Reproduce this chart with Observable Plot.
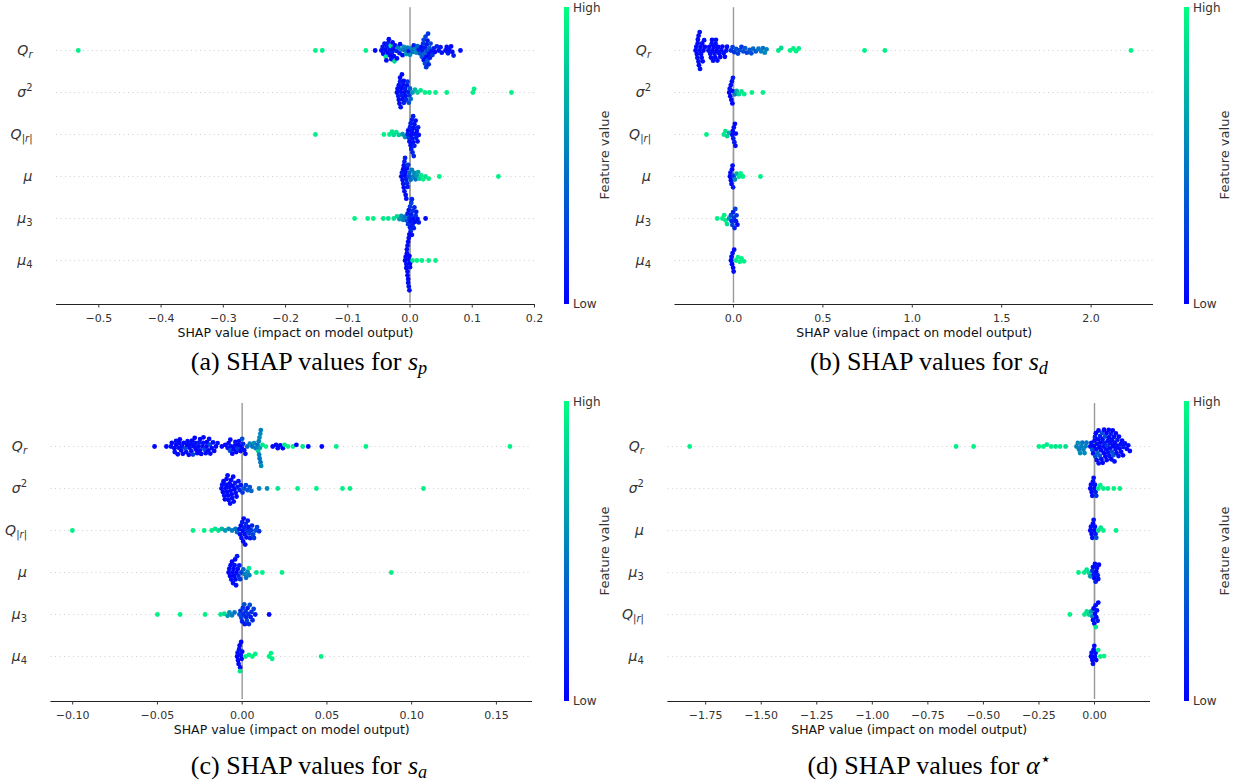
<!DOCTYPE html>
<html>
<head>
<meta charset="utf-8">
<script src="https://cdn.jsdelivr.net/npm/d3@7"></script>
<script src="https://cdn.jsdelivr.net/npm/@observablehq/plot@0.6"></script>
<style>
html,body{margin:0;padding:0;background:#fff}
#root{position:relative;width:1239px;height:784px;overflow:hidden;font-family:"DejaVu Sans",sans-serif}
.panel{position:absolute;width:620px;height:392px}
.panel svg{position:absolute;left:0;overflow:visible}
.cbar{position:absolute;left:564px;width:5px;background:linear-gradient(to bottom,#00ff80,#0000ff)}
.cbl{position:absolute;left:573px;font-size:12px;line-height:14px;color:#333}
.fv{position:absolute;left:605px;font-size:13px;line-height:14px;color:#333;white-space:nowrap;transform:translate(-50%,-50%) rotate(-90deg)}
.cap{position:absolute;left:0;width:618px;text-align:center;font-family:"Liberation Serif","Times New Roman",serif;font-size:26px;line-height:26px;color:#000;white-space:nowrap}
.cap sub{font-size:70%;line-height:0;vertical-align:-0.2em}
.cap sup{font-size:70%;line-height:0;vertical-align:0.5em}
</style>
</head>
<body>
<div id="root"></div>
<script>
// ---- feature (row) labels ----
const featsABC = ["Q_r", "σ^2", "Q_|r|", "μ", "μ_3", "μ_4"];
const featsD   = ["Q_r", "σ^2", "μ", "μ_3", "Q_|r|", "μ_4"];

// ---- tick labels ----
const aTicks = [-0.5, -0.4, -0.3, -0.2, -0.1, 0, 0.1, 0.2];
const bTicks = [0, 0.5, 1, 1.5, 2];
const cTicks = [-0.1, -0.05, 0, 0.05, 0.1, 0.15];
const dTicks = [-1.75, -1.5, -1.25, -1, -0.75, -0.5, -0.25, 0];
const xTitle = "SHAP value (impact on model output)";

// ---- data: [SHAP value, normalised feature value] ----
// (a) s_p
const a_Qr = [[-0.533,0.95],[-0.152,0.95],[-0.141,0.95],[-0.071,0.95],[-0.056,0.04],
[-0.046,0.04],[-0.044,0.08],[-0.043,0.03],[-0.041,0.06],[-0.040,0.03],[-0.039,0.9],[-0.038,0.04],[-0.037,0.1],[-0.036,0.03],[-0.035,0.12],[-0.034,0.04],[-0.033,0.08],[-0.032,0.03],[-0.031,0.88],[-0.030,0.05],[-0.029,0.1],[-0.028,0.03],[-0.027,0.06],[-0.026,0.04],[-0.025,0.85],[-0.024,0.05],[-0.022,0.1],[-0.021,0.04],[-0.019,0.5],[-0.017,0.1],[-0.016,0.04],
[-0.014,0.5],[-0.012,0.05],[-0.010,0.55],[-0.008,0.45],[-0.006,0.6],[-0.004,0.5],[-0.002,0.08],[0.000,0.55],[0.002,0.5],[0.004,0.45],[0.006,0.1],[0.008,0.5],[0.010,0.55],[0.012,0.4],
[0.014,0.1],[0.016,0.3],[0.018,0.05],[0.019,0.35],[0.020,0.1],[0.021,0.2],[0.022,0.05],[0.022,0.25],[0.023,0.4],[0.024,0.1],[0.024,0.3],[0.025,0.25],[0.026,0.05],[0.026,0.2],[0.027,0.3],[0.027,0.1],[0.028,0.1],[0.028,0.35],[0.029,0.2],[0.030,0.05],[0.030,0.15],[0.031,0.35],[0.032,0.1],[0.033,0.25],[0.034,0.05],[0.036,0.2],[0.038,0.1],[0.040,0.05],[0.043,0.15],[0.046,0.05],[0.049,0.1],[0.051,0.05],
[0.057,0.05],[0.059,0.04],[0.061,0.1],[0.063,0.05],[0.066,0.04],[0.068,0.06],[0.070,0.1],[0.081,0.05]];
const a_s2 = [[-0.021,0.04],[-0.020,0.05],[-0.019,0.1],[-0.018,0.03],[-0.018,0.06],[-0.017,0.05],[-0.016,0.1],[-0.016,0.03],[-0.015,0.05],[-0.015,0.08],[-0.014,0.04],[-0.013,0.1],[-0.013,0.03],[-0.012,0.05],[-0.011,0.06],[-0.010,0.1],[-0.010,0.04],[-0.009,0.05],[-0.008,0.1],[-0.007,0.05],[-0.006,0.15],[-0.005,0.05],[-0.004,0.2],[-0.003,0.1],[-0.002,0.3],[-0.001,0.2],[0.000,0.35],[0.001,0.4],
[0.004,0.6],[0.008,0.7],[0.012,0.8],[0.017,0.9],[0.024,0.95],[0.031,0.95],[0.041,0.95],[0.059,0.95],[0.101,0.95],[0.103,0.95],[0.163,0.95]];
const a_Qa = [[-0.152,0.95],[-0.042,0.95],[-0.033,0.92],[-0.029,0.9],[-0.026,0.88],[-0.022,0.9],[-0.018,0.8],[-0.012,0.6],[-0.008,0.55],
[-0.004,0.1],[-0.003,0.05],[-0.002,0.2],[-0.001,0.05],[0.000,0.1],[0.001,0.05],[0.001,0.1],[0.002,0.05],[0.002,0.1],[0.003,0.05],[0.003,0.1],[0.004,0.05],[0.004,0.15],[0.005,0.05],[0.005,0.1],[0.006,0.05],[0.006,0.15],[0.007,0.05],[0.007,0.1],[0.008,0.05],[0.009,0.05],[0.010,0.1],[0.011,0.05],[0.012,0.05],[0.013,0.1],[0.014,0.05]];
const a_mu = [[-0.014,0.04],[-0.013,0.1],[-0.012,0.05],[-0.011,0.03],[-0.011,0.1],[-0.010,0.05],[-0.010,0.04],[-0.009,0.1],[-0.009,0.05],[-0.008,0.03],[-0.008,0.1],[-0.007,0.05],[-0.007,0.04],[-0.006,0.1],[-0.006,0.05],[-0.005,0.15],[-0.005,0.05],[-0.004,0.1],[-0.003,0.2],[-0.002,0.3],
[-0.001,0.4],[0.001,0.45],[0.003,0.5],[0.005,0.5],[0.007,0.55],[0.009,0.45],[0.011,0.6],[0.013,0.65],
[0.015,0.8],[0.018,0.9],[0.021,0.95],[0.025,0.9],[0.030,0.95],[0.047,0.95],[0.142,0.95]];
const a_mu3 = [[-0.089,0.95],[-0.068,0.95],[-0.059,0.95],[-0.043,0.92],[-0.035,0.9],[-0.026,0.88],[-0.021,0.85],[-0.017,0.6],[-0.014,0.55],[-0.011,0.5],[-0.008,0.45],
[-0.005,0.3],[-0.004,0.1],[-0.003,0.2],[-0.002,0.05],[-0.001,0.15],[0.000,0.1],[0.000,0.2],[0.001,0.05],[0.001,0.15],[0.002,0.1],[0.002,0.25],[0.003,0.05],[0.003,0.15],[0.004,0.1],[0.004,0.2],[0.005,0.05],[0.006,0.1],[0.007,0.15],[0.008,0.05],[0.009,0.2],[0.010,0.1],[0.012,0.05],[0.014,0.1],[0.025,0.02]];
const a_mu4 = [[-0.008,0.02],[-0.007,0.02],[-0.006,0.05],[-0.006,0.02],[-0.005,0.02],[-0.005,0.05],[-0.004,0.02],[-0.004,0.03],[-0.004,0.05],[-0.003,0.02],[-0.003,0.03],[-0.003,0.05],[-0.002,0.02],[-0.002,0.03],[-0.002,0.05],[-0.001,0.02],[-0.001,0.03],[-0.001,0.05],[0.000,0.02],[0.000,0.05],
[0.004,0.9],[0.011,0.95],[0.019,0.95],[0.030,0.95],[0.041,0.95]];

// (b) s_d
const b_Qr = [[-0.212,0.02],[-0.208,0.05],[-0.205,0.02],[-0.202,0.05],[-0.200,0.03],[-0.199,0.02],[-0.196,0.05],[-0.195,0.02],[-0.193,0.02],[-0.190,0.03],[-0.189,0.05],[-0.187,0.05],[-0.184,0.02],[-0.181,0.05],[-0.178,0.02],[-0.175,0.02],[-0.172,0.05],[-0.168,0.02],[-0.164,0.05],[-0.160,0.02],
[-0.140,0.05],[-0.135,0.02],[-0.130,0.05],[-0.126,0.02],[-0.122,0.05],[-0.120,0.03],[-0.118,0.02],[-0.114,0.05],[-0.110,0.02],[-0.106,0.05],[-0.102,0.02],[-0.100,0.04],[-0.098,0.05],[-0.094,0.02],[-0.090,0.05],[-0.086,0.02],[-0.080,0.05],[-0.074,0.02],[-0.068,0.05],[-0.062,0.02],
[-0.055,0.05],[-0.048,0.02],[-0.040,0.05],[-0.036,0.05],
[-0.014,0.2],[-0.005,0.25],[0.005,0.2],[0.015,0.3],[0.025,0.25],[0.035,0.3],[0.045,0.2],[0.055,0.3],[0.065,0.35],[0.075,0.25],[0.090,0.35],[0.100,0.3],[0.110,0.4],[0.125,0.35],[0.140,0.45],[0.155,0.5],[0.165,0.45],[0.175,0.55],[0.185,0.5],
[0.251,0.9],[0.267,0.85],[0.317,0.95],[0.335,0.95],[0.350,0.95],[0.365,0.95],[0.733,0.95],[0.847,0.95],[2.223,0.95]];
const b_s2 = [[-0.024,0.02],[-0.021,0.05],[-0.018,0.02],[-0.015,0.05],[-0.012,0.02],[-0.009,0.05],[-0.006,0.02],[-0.004,0.05],[-0.003,0.1],
[0.008,0.5],[0.018,0.7],[0.030,0.85],[0.045,0.9],[0.060,0.95],[0.103,0.95],[0.165,0.95]];
const b_Qa = [[-0.151,0.95],[-0.054,0.9],[-0.045,0.9],[-0.035,0.85],[-0.025,0.7],
[-0.007,0.05],[-0.004,0.02],[-0.001,0.1],[0.002,0.05],[0.005,0.1],[0.008,0.02],[0.011,0.05],[0.013,0.05]];
const b_mu = [[-0.020,0.02],[-0.017,0.05],[-0.014,0.02],[-0.011,0.05],[-0.008,0.02],[-0.005,0.05],[-0.002,0.1],[0.001,0.2],
[0.008,0.55],[0.018,0.7],[0.030,0.9],[0.040,0.95],[0.053,0.95],[0.151,0.95]];
const b_mu3 = [[-0.091,0.95],[-0.062,0.95],[-0.052,0.95],[-0.044,0.92],[-0.036,0.88],[-0.025,0.6],
[-0.014,0.3],[-0.010,0.15],[-0.006,0.25],[-0.002,0.1],[0.002,0.2],[0.006,0.15],[0.010,0.25],[0.014,0.1],[0.017,0.2],[0.022,0.02]];
const b_mu4 = [[-0.014,0.02],[-0.011,0.05],[-0.008,0.02],[-0.005,0.05],[-0.002,0.02],[0.001,0.05],[0.004,0.02],
[0.015,0.9],[0.025,0.95],[0.035,0.95],[0.045,0.95],[0.059,0.95]];

// (c) s_a
const c_Qr = [[-0.0517,0.02],[-0.0447,0.02],[-0.0420,0.05],[-0.0415,0.02],[-0.0400,0.03],[-0.0398,0.05],[-0.0390,0.02],[-0.0390,0.05],[-0.0380,0.03],[-0.0375,0.05],[-0.0370,0.02],[-0.0368,0.02],[-0.0360,0.03],[-0.0354,0.05],[-0.0350,0.03],[-0.0345,0.02],[-0.0335,0.3],[-0.0330,0.03],[-0.0325,0.02],[-0.0322,0.05],[-0.0315,0.02],[-0.0310,0.03],[-0.0303,0.05],[-0.0300,0.05],[-0.0296,0.02],[-0.0290,0.25],[-0.0285,0.03],[-0.0280,0.02],[-0.0278,0.05],[-0.0272,0.02],[-0.0265,0.03],[-0.0260,0.05],[-0.0255,0.1],[-0.0250,0.03],[-0.0248,0.02],[-0.0242,0.03],[-0.0235,0.05],[-0.0230,0.05],[-0.0228,0.02],[-0.0222,0.3],[-0.0215,0.05],[-0.0210,0.02],[-0.0208,0.02],[-0.0200,0.03],[-0.0195,0.05],[-0.0190,0.3],[-0.0188,0.02],[-0.0180,0.03],[-0.0172,0.05],[-0.0165,0.02],[-0.0155,0.03],[-0.0145,0.05],[-0.0120,0.02],[-0.0100,0.03],[-0.0086,0.05],[-0.0080,0.02],[-0.0072,0.3],[-0.0070,0.02],[-0.0065,0.05],[-0.0058,0.02],[-0.0050,0.03],[-0.0042,0.05],[-0.0040,0.05],[-0.0035,0.02],[-0.0027,0.25],[-0.0020,0.02],[-0.0018,0.05],[-0.0010,0.02],[-0.0003,0.03],[0.0000,0.3],[0.0005,0.1],[0.0012,0.05],[0.0019,0.02],
[0.0030,0.4],[0.0045,0.5],[0.0060,0.45],[0.0070,0.55],[0.0080,0.5],[0.0090,0.45],[0.0095,0.8],[0.0098,0.5],[0.0100,0.5],[0.0102,0.55],[0.0103,0.45],[0.0105,0.6],[0.0107,0.55],[0.0108,0.45],[0.0110,0.5],[0.0112,0.55],[0.0120,0.9],[0.0140,0.95],
[0.0180,0.02],[0.0200,0.05],[0.0210,0.05],[0.0225,0.02],[0.0240,0.02],[0.0250,0.9],[0.0270,0.95],[0.0300,0.95],[0.0320,0.02],[0.0357,0.9],[0.0390,0.02],[0.0470,0.02],[0.0555,0.95],[0.0730,0.95],[0.1580,0.95]];
const c_s2 = [[-0.0122,0.02],[-0.0118,0.05],[-0.0114,0.02],[-0.0110,0.03],[-0.0106,0.05],[-0.0102,0.02],[-0.0098,0.03],[-0.0095,0.05],[-0.0092,0.02],[-0.0089,0.03],[-0.0086,0.05],[-0.0083,0.02],[-0.0080,0.03],[-0.0077,0.05],[-0.0074,0.02],[-0.0071,0.03],[-0.0068,0.05],[-0.0065,0.02],[-0.0062,0.03],[-0.0059,0.05],[-0.0056,0.02],[-0.0053,0.03],[-0.0050,0.05],[-0.0046,0.02],[-0.0042,0.1],[-0.0038,0.05],[-0.0033,0.02],[-0.0028,0.1],[-0.0022,0.05],[-0.0015,0.15],[-0.0008,0.1],
[0.0002,0.2],[0.0012,0.3],[0.0022,0.25],[0.0032,0.35],[0.0045,0.3],[0.0054,0.4],
[0.0100,0.5],[0.0147,0.55],[0.0210,0.9],[0.0327,0.95],[0.0438,0.95],[0.0592,0.95],[0.0636,0.95],[0.1070,0.95]];
const c_Qa = [[-0.1002,0.95],[-0.0290,0.95],[-0.0224,0.95],[-0.0180,0.92],[-0.0160,0.9],[-0.0140,0.88],[-0.0120,0.7],[-0.0100,0.6],[-0.0080,0.55],[-0.0060,0.5],[-0.0040,0.45],[-0.0030,0.4],
[-0.0017,0.1],[-0.0012,0.05],[-0.0008,0.02],[-0.0004,0.05],[0.0000,0.1],[0.0003,0.02],[0.0006,0.05],[0.0009,0.02],[0.0012,0.1],[0.0015,0.05],[0.0018,0.02],[0.0021,0.15],[0.0025,0.05],[0.0029,0.2],[0.0033,0.1],[0.0037,0.05],[0.0042,0.25],[0.0047,0.1],[0.0052,0.2],[0.0058,0.15],[0.0064,0.25],[0.0070,0.2],[0.0078,0.3],[0.0088,0.25],[0.0100,0.2]];
const c_mu = [[-0.0080,0.02],[-0.0076,0.05],[-0.0072,0.02],[-0.0068,0.03],[-0.0064,0.05],[-0.0060,0.02],[-0.0057,0.03],[-0.0054,0.05],[-0.0051,0.02],[-0.0048,0.03],[-0.0045,0.05],[-0.0042,0.02],[-0.0039,0.03],[-0.0036,0.05],[-0.0033,0.02],[-0.0030,0.1],[-0.0026,0.05],[-0.0022,0.15],[-0.0017,0.1],[-0.0012,0.2],[-0.0005,0.25],
[0.0007,0.4],[0.0015,0.5],[0.0023,0.45],[0.0032,0.55],[0.0042,0.5],[0.0040,0.9],
[0.0084,0.9],[0.0119,0.95],[0.0235,0.95],[0.0880,0.95]];
const c_mu3 = [[-0.0500,0.95],[-0.0366,0.95],[-0.0219,0.95],[-0.0127,0.9],[-0.0105,0.88],[-0.0086,0.6],[-0.0075,0.55],[-0.0060,0.5],[-0.0045,0.45],
[-0.0016,0.3],[-0.0010,0.15],[-0.0005,0.25],[0.0000,0.1],[0.0004,0.2],[0.0008,0.15],[0.0012,0.3],[0.0016,0.1],[0.0020,0.2],[0.0024,0.15],[0.0028,0.25],[0.0032,0.1],[0.0036,0.2],[0.0040,0.15],[0.0045,0.3],[0.0050,0.1],[0.0055,0.2],[0.0061,0.15],[0.0068,0.25],[0.0077,0.1],[0.0159,0.02]];
const c_mu4 = [[-0.0030,0.02],[-0.0027,0.05],[-0.0024,0.02],[-0.0021,0.03],[-0.0018,0.05],[-0.0015,0.02],[-0.0012,0.03],[-0.0009,0.05],[-0.0006,0.02],[-0.0003,0.03],[0.0000,0.05],[-0.0013,0.9],
[0.0020,0.92],[0.0040,0.95],[0.0060,0.95],[0.0077,0.95],[0.0159,0.95],[0.0170,0.95],[0.0177,0.95],[0.0466,0.95]];

// (d) alpha*
const d_Qr = [[-1.822,0.95],[-0.623,0.95],[-0.544,0.95],[-0.250,0.95],[-0.230,0.95],[-0.215,0.92],[-0.195,0.95],[-0.175,0.9],[-0.155,0.92],[-0.130,0.88],
[-0.081,0.5],[-0.075,0.55],[-0.070,0.5],[-0.065,0.55],[-0.060,0.5],[-0.055,0.45],[-0.050,0.5],[-0.045,0.55],[-0.040,0.5],[-0.036,0.45],
[-0.019,0.05],[-0.014,0.02],[-0.010,0.3],[-0.006,0.05],[-0.002,0.02],[0.000,0.05],[0.002,0.1],[0.004,0.3],[0.006,0.02],[0.008,0.02],[0.010,0.05],[0.012,0.05],[0.013,0.4],[0.016,0.02],[0.018,0.02],[0.019,0.05],[0.022,0.02],[0.024,0.35],[0.025,0.1],[0.028,0.02],[0.030,0.02],[0.031,0.05],[0.034,0.3],[0.036,0.05],[0.037,0.02],[0.040,0.05],[0.042,0.02],[0.043,0.02],[0.046,0.1],[0.048,0.3],[0.049,0.02],[0.052,0.05],[0.054,0.02],[0.055,0.02],[0.058,0.25],[0.060,0.05],[0.061,0.05],[0.064,0.02],[0.066,0.02],[0.067,0.05],[0.070,0.02],[0.072,0.05],[0.073,0.1],[0.076,0.02],[0.078,0.3],[0.079,0.05],[0.082,0.02],[0.084,0.02],[0.085,0.35],[0.088,0.05],[0.090,0.05],[0.091,0.02],[0.095,0.05],[0.096,0.02],[0.099,0.02],[0.102,0.05],[0.103,0.1],[0.108,0.05],[0.110,0.02],[0.113,0.02],[0.118,0.05],[0.120,0.05],[0.124,0.02],[0.128,0.02],[0.130,0.1],[0.137,0.05],[0.145,0.02],[0.152,0.05],[0.159,0.02]];
const d_s2 = [[-0.019,0.02],[-0.016,0.05],[-0.013,0.02],[-0.010,0.05],[-0.007,0.02],[-0.004,0.05],[-0.001,0.02],[0.002,0.05],[0.005,0.1],[0.008,0.2],
[0.017,0.9],[0.026,0.95],[0.040,0.95],[0.060,0.95],[0.087,0.95],[0.114,0.95]];
const d_mu = [[-0.019,0.02],[-0.016,0.05],[-0.013,0.02],[-0.010,0.05],[-0.007,0.02],[-0.004,0.05],[-0.001,0.02],[0.002,0.05],[0.005,0.1],[0.008,0.3],
[0.017,0.85],[0.028,0.9],[0.040,0.95],[0.097,0.95]];
const d_mu3 = [[-0.072,0.95],[-0.046,0.92],[-0.035,0.9],[-0.025,0.85],[-0.019,0.6],
[-0.010,0.2],[-0.007,0.05],[-0.004,0.1],[-0.001,0.02],[0.002,0.05],[0.005,0.1],[0.008,0.02],[0.011,0.05],[0.014,0.1],[0.017,0.05],[0.020,0.02]];
const d_Qa = [[-0.111,0.95],[-0.045,0.92],[-0.035,0.9],[-0.025,0.85],[-0.015,0.6],[-0.010,0.5],
[-0.007,0.05],[-0.004,0.02],[-0.001,0.05],[0.002,0.02],[0.005,0.05],[0.008,0.02],[0.011,0.05],[0.014,0.1],[0.006,0.9],[0.017,0.02]];
const d_mu4 = [[-0.016,0.02],[-0.013,0.05],[-0.010,0.02],[-0.007,0.05],[-0.004,0.02],[-0.001,0.05],[0.002,0.02],[0.005,0.05],[0.008,0.02],
[0.017,0.92],[0.026,0.95],[0.043,0.95]];

// ---- panel settings (layout only) ----
const panels = [
  {left: 0,   top: 0,   feats: featsABC, series: [a_Qr, a_s2, a_Qa, a_mu, a_mu3, a_mu4], domain: [-0.568, 0.2],    ticks: aTicks, fmt: ".1f", x0: 56,   x1: 534, fTop: 6.6, fBot: 304.3, capTop: 349, cap: '(a) SHAP values for <i>s</i><sub><i>p</i></sub>'},
  {left: 620, top: 0,   feats: featsABC, series: [b_Qr, b_s2, b_Qa, b_mu, b_mu3, b_mu4], domain: [-0.327, 2.349],  ticks: bTicks, fmt: ".1f", x0: 54.5, x1: 533, fTop: 6.6, fBot: 304.3, capTop: 349, cap: '(b) SHAP values for <i>s</i><sub><i>d</i></sub>'},
  {left: 0,   top: 394, feats: featsABC, series: [c_Qr, c_s2, c_Qa, c_mu, c_mu3, c_mu4], domain: [-0.1128, 0.1713], ticks: cTicks, fmt: ".2f", x0: 50.5, x1: 532, fTop: 6.5, fBot: 307,   capTop: 359, cap: '(c) SHAP values for <i>s</i><sub><i>a</i></sub>'},
  {left: 620, top: 394, feats: featsD,   series: [d_Qr, d_s2, d_mu, d_mu3, d_Qa, d_mu4], domain: [-1.92, 0.252],   ticks: dTicks, fmt: ".2f", x0: 47.4, x1: 530, fTop: 6.5, fBot: 307,   capTop: 359, cap: '(d) SHAP values for <i>α</i><sup>⋆</sup>'}
];

const SVGNS = "http://www.w3.org/2000/svg";
function richLabel(t, label) {
  const m = label.match(/^(.)([_^])(.+)$/);
  t.textContent = "";
  const base = document.createElementNS(SVGNS, "tspan");
  base.textContent = m ? m[1] : label;
  base.setAttribute("font-style", "italic");
  t.appendChild(base);
  if (m) {
    let first = true;
    for (const ch of m[3]) {
      const s = document.createElementNS(SVGNS, "tspan");
      s.textContent = ch;
      s.setAttribute("font-size", "10px");
      if (/[a-z]/.test(ch)) s.setAttribute("font-style", "italic");
      if (first) { s.setAttribute("dy", m[2] === "_" ? "0.35em" : "-0.55em"); first = false; }
      t.appendChild(s);
    }
  }
}

const root = document.getElementById("root");
const W = 540;
const fontStyle = {fontFamily: '"DejaVu Sans", sans-serif', background: "transparent", overflow: "visible"};

for (const p of panels) {
  const div = document.createElement("div");
  div.className = "panel";
  div.style.left = p.left + "px";
  div.style.top = p.top + "px";
  root.appendChild(div);

  const rows = p.feats.flatMap((f, k) => p.series[k].map(([s, v]) => ({feature: f, shap: s, fv: v})));
  const H = Math.ceil(p.fBot) + 2;
  const band = (p.fBot - p.fTop) / 7;

  const main = Plot.plot({
    width: W, height: H,
    marginLeft: p.x0, marginRight: W - p.x1, marginTop: p.fTop, marginBottom: H - p.fBot,
    style: fontStyle,
    x: {domain: p.domain, axis: null},
    fy: {domain: p.feats, range: [p.fTop + band / 2, p.fBot - band / 2], padding: 0, label: null},
    color: {type: "linear", domain: [0, 1], range: ["#0000ff", "#00ff80"], interpolate: "rgb"},
    marks: [
      Plot.gridFy({stroke: "#c4c4c4", strokeOpacity: 1, strokeWidth: 0.8, strokeDasharray: "1,3.5"}),
      Plot.ruleX([0], {stroke: "#999", strokeWidth: 1.4, insetTop: -band / 2 - 0.5, insetBottom: -band / 2 - 0.5}),
      Plot.dot(rows, Plot.dodgeY({anchor: "middle", padding: -1}, {x: "shap", fy: "feature", fill: "fv", r: 2.4})),
      Plot.axisFy({anchor: "left", tickSize: 0, tickPadding: 24, fontSize: 14, fill: "#333", label: null})
    ]
  });
  main.style.top = "0px";
  div.appendChild(main);
  main.querySelectorAll('[aria-label="fy-axis tick label"] text').forEach(t => richLabel(t, t.textContent));

  const AH = 50;
  const ax = Plot.plot({
    width: W, height: AH,
    marginLeft: p.x0, marginRight: W - p.x1, marginTop: 0, marginBottom: AH - 1,
    style: fontStyle,
    x: {domain: p.domain},
    y: {domain: [0, 1], axis: null},
    marks: [
      Plot.ruleY([0], {stroke: "#222", strokeWidth: 1}),
      Plot.axisX({ticks: p.ticks, tickFormat: d3.format(p.fmt), tickSize: 3.5, tickPadding: 6, fontSize: 11, fill: "#333", stroke: "#333", label: null}),
      Plot.text([xTitle], {text: d => d, frameAnchor: "bottom", dy: 32, fontSize: 12.5, fill: "#111"})
    ]
  });
  ax.style.top = (p.fBot - 1) + "px";
  div.appendChild(ax);

  // colour bar
  const cb = document.createElement("div");
  cb.className = "cbar";
  cb.style.top = (p.fTop + 0.4) + "px";
  cb.style.height = (p.fBot - p.fTop - 0.4) + "px";
  div.appendChild(cb);
  const hi = document.createElement("div");
  hi.className = "cbl"; hi.textContent = "High"; hi.style.top = (p.fTop - 6) + "px";
  div.appendChild(hi);
  const lo = document.createElement("div");
  lo.className = "cbl"; lo.textContent = "Low"; lo.style.top = (p.fBot - 7) + "px";
  div.appendChild(lo);
  const fv = document.createElement("div");
  fv.className = "fv"; fv.textContent = "Feature value"; fv.style.top = ((p.fTop + p.fBot) / 2) + "px";
  div.appendChild(fv);

  const cap = document.createElement("div");
  cap.className = "cap";
  cap.innerHTML = p.cap;
  cap.style.top = p.capTop + "px";
  div.appendChild(cap);
}
</script>
</body>
</html>
